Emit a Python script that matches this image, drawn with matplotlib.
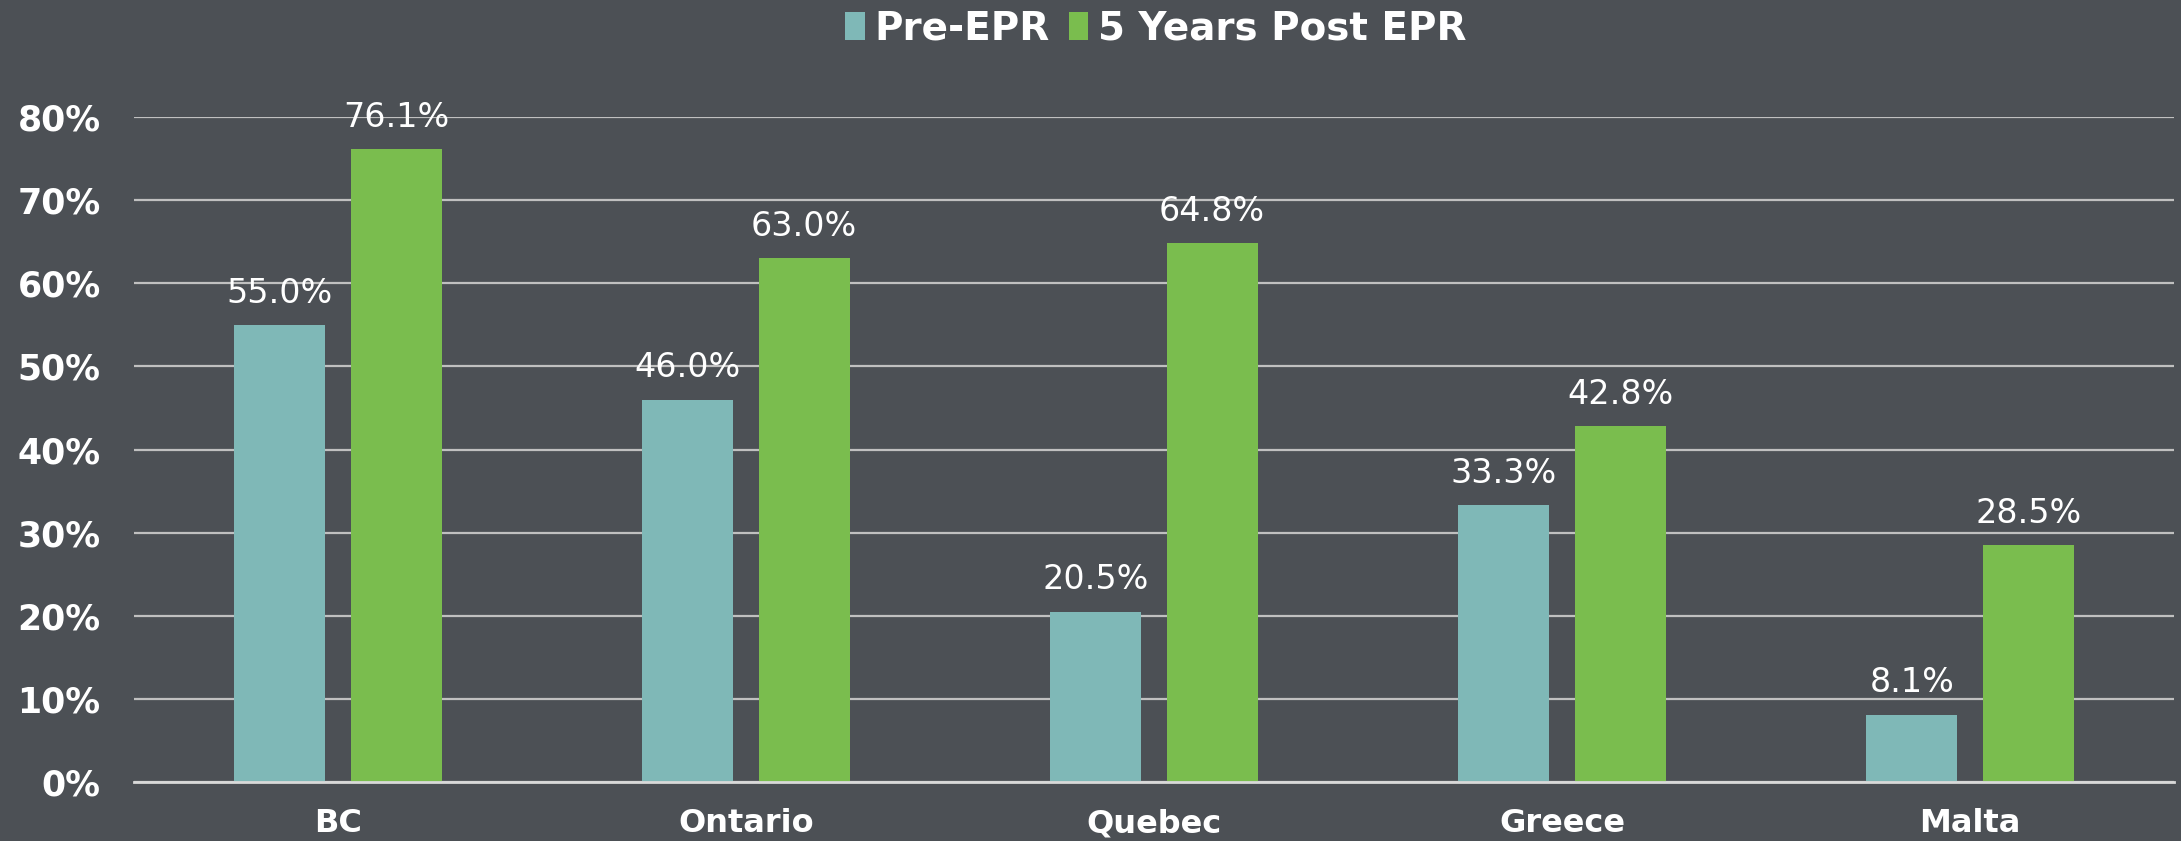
import matplotlib.pyplot as plt
import numpy as np
from matplotlib.ticker import FuncFormatter

# данные, прочитанные с исходного графика
regions = ["BC", "Ontario", "Quebec", "Greece", "Malta"]
pre_epr = [55.0, 46.0, 20.5, 33.3, 8.1]
post_epr = [76.1, 63.0, 64.8, 42.8, 28.5]
series_names = ["Pre-EPR", "5 Years Post EPR"]

bg = "#4c5055"
teal = "#7fb8b7"
green = "#7abd4e"

fig = plt.figure(figsize=(21.81, 8.41), dpi=100, facecolor=bg)
ax = fig.add_axes([134 / 2181, 1 - 782 / 841, 2040 / 2181, (782 - 117) / 841])
ax.set_facecolor(bg)

x = np.arange(len(regions))
w = 0.223
off = 0.1425
b1 = ax.bar(x - off, pre_epr, w, color=teal, label=series_names[0], zorder=3)
b2 = ax.bar(x + off, post_epr, w, color=green, label=series_names[1], zorder=3)

# подписи значений над столбцами
for bars in (b1, b2):
    for rect in bars:
        h = rect.get_height()
        ax.annotate(f"{h:.1f}%", (rect.get_x() + rect.get_width() / 2, h),
                    xytext=(0, 11), textcoords="offset points",
                    ha="center", va="bottom", color="white", fontsize=24,
                    family="DejaVu Sans")

ax.set_xlim(-0.5, len(regions) - 0.5)
ax.set_ylim(0, 80)
ax.set_yticks(np.arange(0, 81, 10))
ax.yaxis.set_major_formatter(FuncFormatter(lambda v, _: f"{v:.0f}%"))
ax.grid(axis="y", color="#c0c0c0", linewidth=1.6, zorder=0)
ax.set_axisbelow(True)

for s in ("top", "right", "left"):
    ax.spines[s].set_visible(False)
ax.spines["bottom"].set_color("#d9d9d9")
ax.spines["bottom"].set_linewidth(2)
ax.spines["bottom"].set_zorder(4)

ax.set_xticks(x)
ax.set_xticklabels(regions)
ax.tick_params(axis="both", length=0, colors="white")
ax.tick_params(axis="y", pad=24)
ax.tick_params(axis="x", pad=19)
for lbl in ax.get_yticklabels():
    lbl.set_fontsize(25)
    lbl.set_fontweight("bold")
for lbl in ax.get_xticklabels():
    lbl.set_fontsize(23)
    lbl.set_fontweight("bold")

leg = fig.legend(loc="upper center", bbox_to_anchor=(0.53, 1.03), ncol=2,
                 frameon=False, handlelength=0.5, handleheight=0.75,
                 handletextpad=0.25, columnspacing=0.5,
                 prop={"size": 28, "weight": "bold"})
for t in leg.get_texts():
    t.set_color("white")

fig.savefig("out.png", dpi=100, facecolor=bg)
